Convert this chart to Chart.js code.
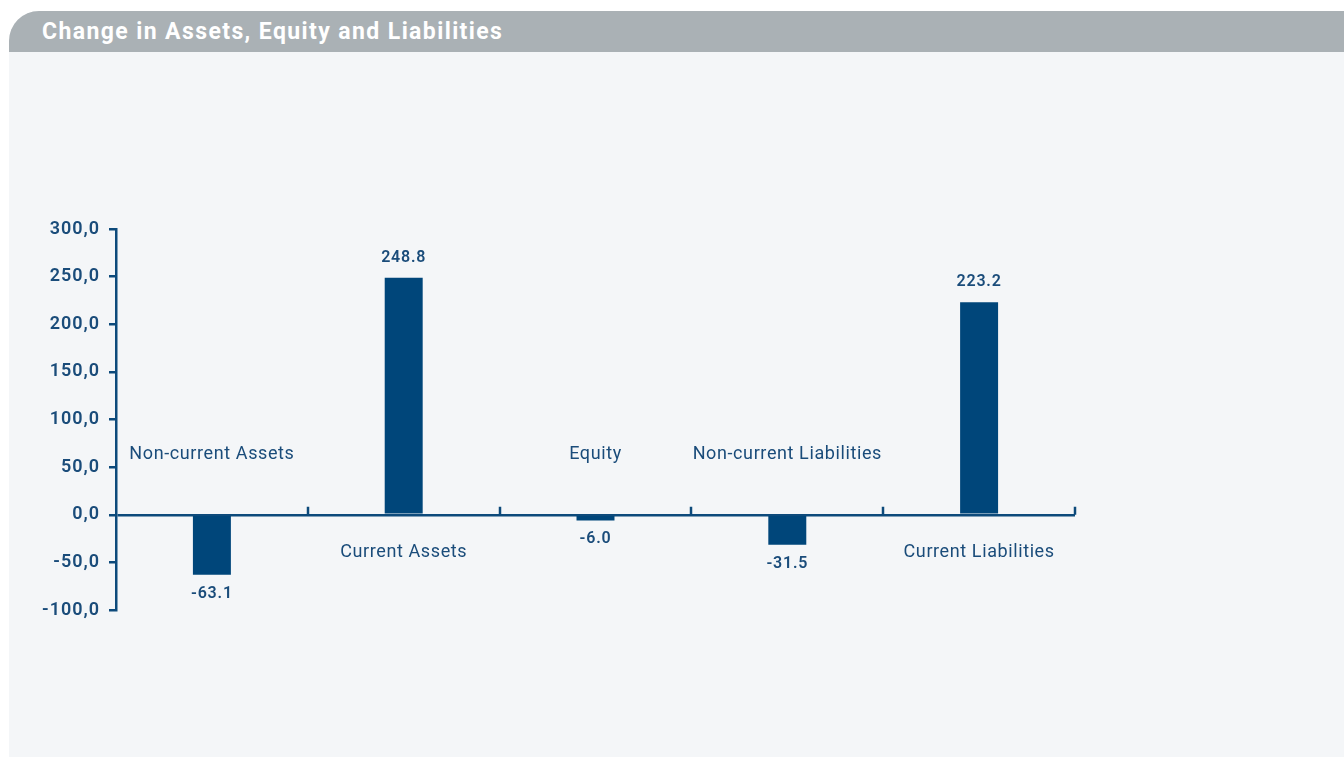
<!DOCTYPE html>
<html lang="en">
<head>
    <meta charset="UTF-8">
    <title>Change in Assets, Equity and Liabilities</title>
    <style type="text/css">
        body{
            margin:0;
            background:#ffffff;
            font-family:Roboto, sans-serif;
        }
        .panel{
            position:absolute;
            left:9px;
            top:11px;
            width:1335px;
            height:746px;
            background:#f4f6f8;
            border-top-left-radius:30px;
            overflow:hidden;
        }
        .panel h1{
            margin:0;
            height:41px;
            background:#aab1b5;
            color:#ffffff;
            font-size:23px;
            font-weight:700;
            letter-spacing:1.4px;
            line-height:42px;
            padding-left:33px;
        }
        .chartBox{
            position:absolute;
            left:0;
            top:41px;
            width:1335px;
            height:705px;
        }
    </style>
</head>
<body>

<div class="panel">
    <h1>Change in Assets, Equity and Liabilities</h1>
    <div class="chartBox">
        <canvas id="myChart"></canvas>
    </div>
</div>

<script src="https://cdn.jsdelivr.net/npm/chart.js"></script>
<script>

const categories = ['Non-current Assets', 'Current Assets', 'Equity', 'Non-current Liabilities', 'Current Liabilities'];
const changes = [-63.1, 248.8, -6.0, -31.5, 223.2];
const yMin = -100;
const yMax = 300;
const yStep = 50;

const axisColor = '#0d4a7b';
const barColor = '#00467a';
const textColor = '#1a4c7a';

// wider letter spacing so Roboto comes closer to the original DIN-like face
const spacingPlugin = {
    id: 'spacing',
    beforeDraw(chart) {
        chart.ctx.letterSpacing = '1px';
    }
};

// category names sit on the opposite side of the bar, values at the bar end
const labelPlugin = {
    id: 'barLabels',
    afterDatasetsDraw(chart) {
        const ctx = chart.ctx;
        const x = chart.scales.x;
        const y = chart.scales.y;
        const zero = y.getPixelForValue(0);
        const step = x.width / categories.length;

        ctx.save();
        ctx.strokeStyle = axisColor;
        ctx.lineWidth = 2.5;
        for (let k = 1; k <= categories.length; k++) {
            const px = Math.round(x.left + k * step);
            ctx.beginPath();
            ctx.moveTo(px, zero);
            ctx.lineTo(px, zero - 8);
            ctx.stroke();
        }

        ctx.fillStyle = textColor;
        ctx.textAlign = 'center';
        ctx.textBaseline = 'middle';
        const meta = chart.getDatasetMeta(0);
        meta.data.forEach((bar, i) => {
            const v = changes[i];
            ctx.font = '400 18px Roboto';
            ctx.letterSpacing = '0.6px';
            const ly = v < 0 ? zero - 60 : zero + 38;
            ctx.fillText(categories[i], bar.x, ly);

            ctx.font = '600 16px Roboto';
            ctx.letterSpacing = '0.8px';
            const vy = v < 0 ? bar.y + 19 : bar.y - 20;
            ctx.fillText(v.toFixed(1), bar.x, vy);
        });
        ctx.restore();
    }
};

const ctx = document.getElementById('myChart').getContext('2d');
const myChart = new Chart(ctx, {
    type: 'bar',
    data: {
        labels: categories,
        datasets: [{
            label: 'Change',
            data: changes,
            backgroundColor: barColor,
            borderWidth: 0,
            categoryPercentage: 1,
            barPercentage: 0.198
        }]
    },
    options: {
        responsive: true,
        maintainAspectRatio: false,
        animation: false,
        layout: {
            padding: { top: 177, bottom: 147, left: 0, right: 269 }
        },
        plugins: {
            legend: { display: false },
            tooltip: { enabled: false }
        },
        scales: {
            x: {
                display: false
            },
            y: {
                min: yMin,
                max: yMax,
                afterFit(scale) { scale.width = 107; },
                border: { display: true, color: axisColor, width: 2.5 },
                grid: {
                    drawOnChartArea: true,
                    color: c => c.tick && c.tick.value === 0 ? axisColor : 'rgba(0,0,0,0)',
                    lineWidth: 2.5,
                    tickColor: axisColor,
                    tickWidth: 2.5,
                    tickLength: 7
                },
                ticks: {
                    stepSize: yStep,
                    padding: 9,
                    color: textColor,
                    font: { family: 'Roboto', size: 18, weight: '600' },
                    callback: v => v.toFixed(1).replace('.', ',')
                }
            }
        }
    },
    plugins: [spacingPlugin, labelPlugin]
});
</script>

</body>
</html>
